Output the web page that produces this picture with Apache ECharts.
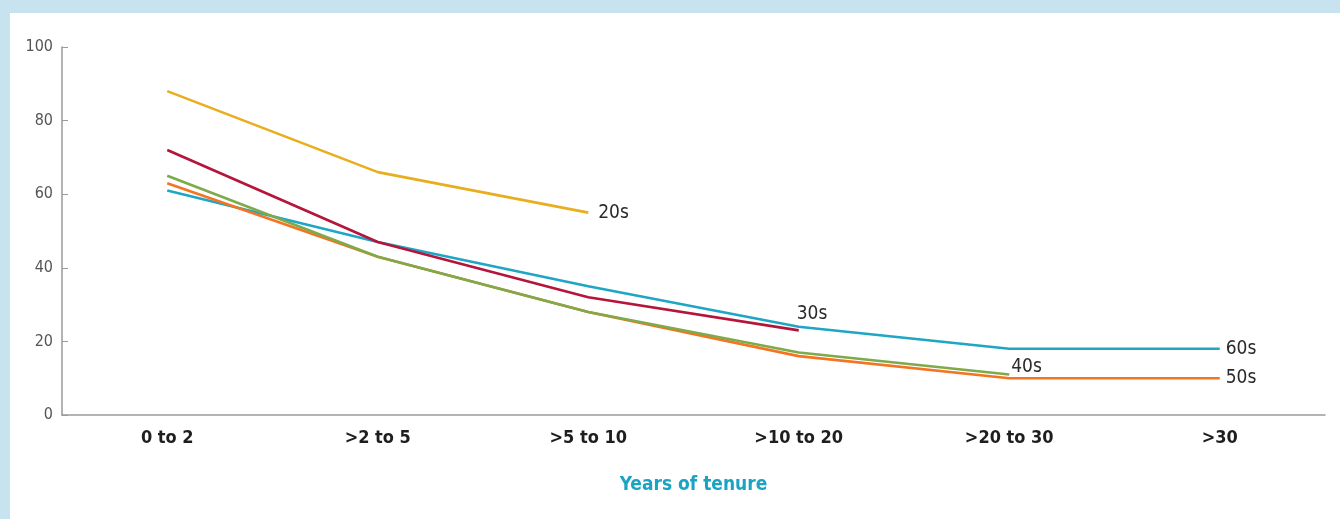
<!DOCTYPE html>
<html>
<head>
<meta charset="utf-8">
<script src="https://cdn.jsdelivr.net/npm/echarts@6/dist/echarts.min.js"></script>
<style>
  html, body { margin: 0; padding: 0; width: 1340px; height: 519px; background: #c7e3ef; overflow: hidden; }
  #chart { position: absolute; left: 10px; top: 13px; width: 1330px; height: 506px; background: #ffffff; }
</style>
</head>
<body>
<div id="chart"></div>
<script>
// Share of workers by years of tenure, per age group
const categories = ['0 to 2', '>2 to 5', '>5 to 10', '>10 to 20', '>20 to 30', '>30'];
const yTicks = [0, 20, 40, 60, 80, 100];

const age20s = [88, 66, 55];
const age30s = [72, 47, 32, 23];
const age40s = [65, 43, 28, 17, 11];
const age50s = [63, 43, 28, 16, 10, 10];
const age60s = [61, 47, 35, 24, 18, 18];

const FONT = '"Liberation Sans Narrow", "DejaVu Sans Condensed", "Roboto", sans-serif';

function lineSeries(name, data, color, labelOffset) {
  return {
    name: name,
    type: 'line',
    data: data,
    symbol: 'none',
    lineStyle: { color: color, width: 2.6 },
    itemStyle: { color: color },
    z: 2,
    endLabel: {
      show: true,
      formatter: '{a}',
      color: '#2b2b2b',
      fontFamily: FONT,
      fontSize: 19,
      distance: 6,
      offset: labelOffset || [0, 0]
    },
    emphasis: { disabled: true }
  };
}

const chart = echarts.init(document.getElementById('chart'), null, { renderer: 'canvas' });
chart.setOption({
  animation: false,
  backgroundColor: '#ffffff',
  grid: { left: 52, right: 15, top: 34, bottom: 104, containLabel: false },
  xAxis: {
    type: 'category',
    data: categories,
    boundaryGap: true,
    name: 'Years of tenure',
    nameLocation: 'middle',
    nameGap: 61,
    nameTextStyle: { color: '#1ba3c2', fontFamily: FONT, fontWeight: 'bold', fontSize: 19 },
    axisLine: { show: true, lineStyle: { color: '#9a9a9a', width: 1.5 } },
    axisTick: { show: false },
    axisLabel: { color: '#1e1e1e', fontFamily: FONT, fontWeight: 'bold', fontSize: 18, margin: 14 },
    splitLine: { show: false }
  },
  yAxis: {
    type: 'value',
    min: yTicks[0],
    max: yTicks[yTicks.length - 1],
    interval: yTicks[1] - yTicks[0],
    axisLine: { show: true, lineStyle: { color: '#9a9a9a', width: 1.5 } },
    axisTick: { show: true, inside: true, length: 6, lineStyle: { color: '#9a9a9a', width: 1 } },
    axisLabel: { color: '#555555', fontFamily: FONT, fontSize: 16, margin: 9 },
    splitLine: { show: false }
  },
  series: [
    lineSeries('60s', age60s, '#1ea6c4'),
    lineSeries('50s', age50s, '#f47421'),
    lineSeries('40s', age40s, '#7daa4a', [-4, -7]),
    lineSeries('30s', age30s, '#b5143b', [-8, -16]),
    lineSeries('20s', age20s, '#e8ae1e', [4, 0])
  ]
});
</script>
</body>
</html>
